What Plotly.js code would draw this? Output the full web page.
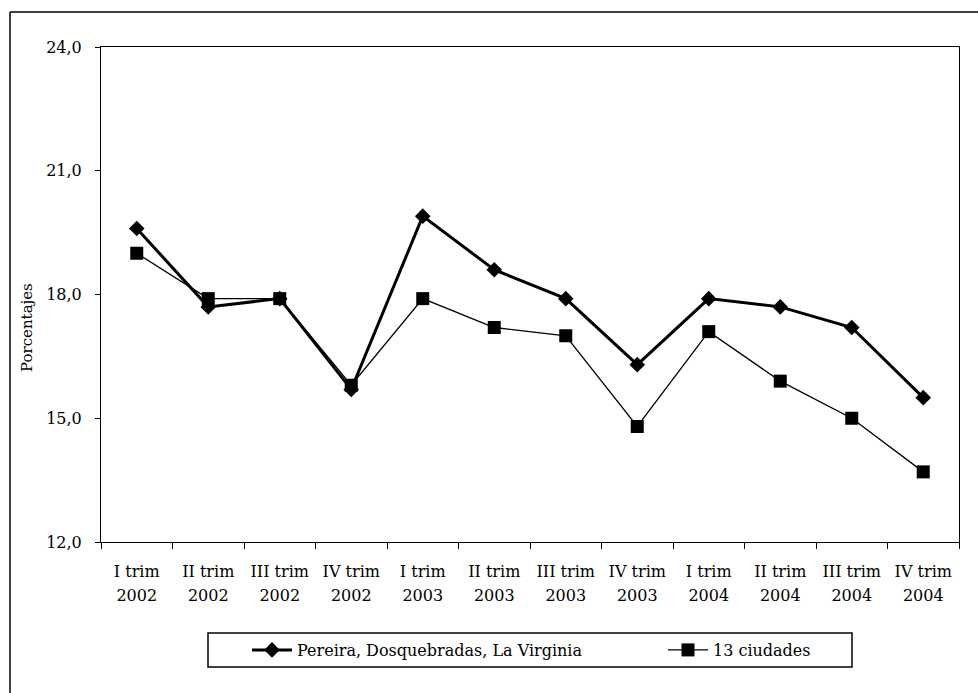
<!DOCTYPE html>
<html>
<head>
<meta charset="utf-8">
<script src="https://cdn.plot.ly/plotly-3.0.1.min.js"></script>
<style>html,body{margin:0;padding:0;background:#fff;}#chart{width:978px;height:693px;}</style>
</head>
<body>
<div id="chart"></div>
<script>
const quarters = ["I trim","II trim","III trim","IV trim","I trim","II trim","III trim","IV trim","I trim","II trim","III trim","IV trim"];
const years = ["2002","2002","2002","2002","2003","2003","2003","2003","2004","2004","2004","2004"];
const pereira = [19.6, 17.7, 17.9, 15.7, 19.9, 18.6, 17.9, 16.3, 17.9, 17.7, 17.2, 15.5];
const ciudades = [19.0, 17.9, 17.9, 15.8, 17.9, 17.2, 17.0, 14.8, 17.1, 15.9, 15.0, 13.7];
const seriesNames = ["Pereira, Dosquebradas, La Virginia", "13 ciudades"];
const yTicks = [12, 15, 18, 21, 24];
const yTitle = "Porcentajes";
const categories = quarters.map((q, i) => q + " " + years[i]);
const yearIdx = years.map((y, i) => i);

const FONT = "DejaVu Serif, Liberation Serif, serif";
const plotL = 101, plotR = 959, plotT = 47, plotB = 542;
const pw = plotR - plotL, ph = plotB - plotT;
const px = v => (v - plotL) / pw;
const py = v => (plotB - v) / ph;

const traces = [
  {x: categories, y: pereira, name: seriesNames[0], type: "scatter", mode: "lines+markers",
   line: {color: "#000", width: 3}, marker: {symbol: "diamond", size: 12, color: "#000"}, legendwidth: 361},
  {x: categories, y: ciudades, name: seriesNames[1], type: "scatter", mode: "lines+markers",
   line: {color: "#000", width: 1.3}, marker: {symbol: "square", size: 13, color: "#000"}, legendwidth: 100},
  // carrier for the second (year) label row; draws nothing
  {x: yearIdx, y: yearIdx.map(() => null), xaxis: "x2", type: "scatter", mode: "markers",
   showlegend: false, hoverinfo: "skip"}
];

const layout = {
  width: 978, height: 693,
  margin: {l: plotL, r: 978 - plotR, t: plotT, b: 693 - plotB},
  paper_bgcolor: "#fff", plot_bgcolor: "#fff",
  separators: ",.",
  font: {family: FONT, size: 16, color: "#000"},
  showlegend: true,
  xaxis: {type: "category", tickson: "boundaries", ticks: "outside", ticklen: 6,
    tickmode: "array", tickvals: categories, ticktext: quarters, ticklabelstandoff: 15,
    tickcolor: "#000", linecolor: "#000", linewidth: 1, mirror: true, showgrid: false,
    tickfont: {family: FONT, size: 16}, range: [-0.5, 11.5], fixedrange: true},
  xaxis2: {overlaying: "x", anchor: "y", side: "bottom", range: [-0.5, 11.5],
    tickmode: "array", tickvals: yearIdx, ticktext: years,
    ticks: "", showline: false, showgrid: false, zeroline: false, ticklabelstandoff: 42,
    tickfont: {family: FONT, size: 16}},
  yaxis: {range: [12, 24], tickvals: yTicks, tickformat: ".1f", ticks: "outside", ticklen: 5,
    tickcolor: "#000", linecolor: "#000", linewidth: 1, mirror: true, showgrid: false, zeroline: false,
    tickfont: {family: FONT, size: 16}, ticklabelstandoff: 10},
  annotations: [
    {text: yTitle, xref: "paper", yref: "paper", x: px(27), y: py(328), textangle: -90,
     showarrow: false, xanchor: "center", yanchor: "middle", font: {family: FONT, size: 15, color: "#000"}}
  ],
  legend: {orientation: "h", x: px(247), xanchor: "left", y: py(650), yanchor: "middle",
    borderwidth: 0, bgcolor: "rgba(0,0,0,0)", itemwidth: 40,
    font: {family: FONT, size: 16}},
  shapes: [
    {type: "line", xref: "paper", yref: "paper", x0: px(10), x1: px(10), y0: py(12), y1: py(720), line: {color: "#000", width: 1.5}},
    {type: "line", xref: "paper", yref: "paper", x0: px(10), x1: px(1000), y0: py(12), y1: py(12), line: {color: "#000", width: 1.5}},
    {type: "rect", xref: "paper", yref: "paper", x0: px(208), x1: px(852), y0: py(633), y1: py(667), line: {color: "#000", width: 1.5}, layer: "below"}
  ]
};

Plotly.newPlot("chart", traces, layout, {staticPlot: true});
</script>
</body>
</html>
